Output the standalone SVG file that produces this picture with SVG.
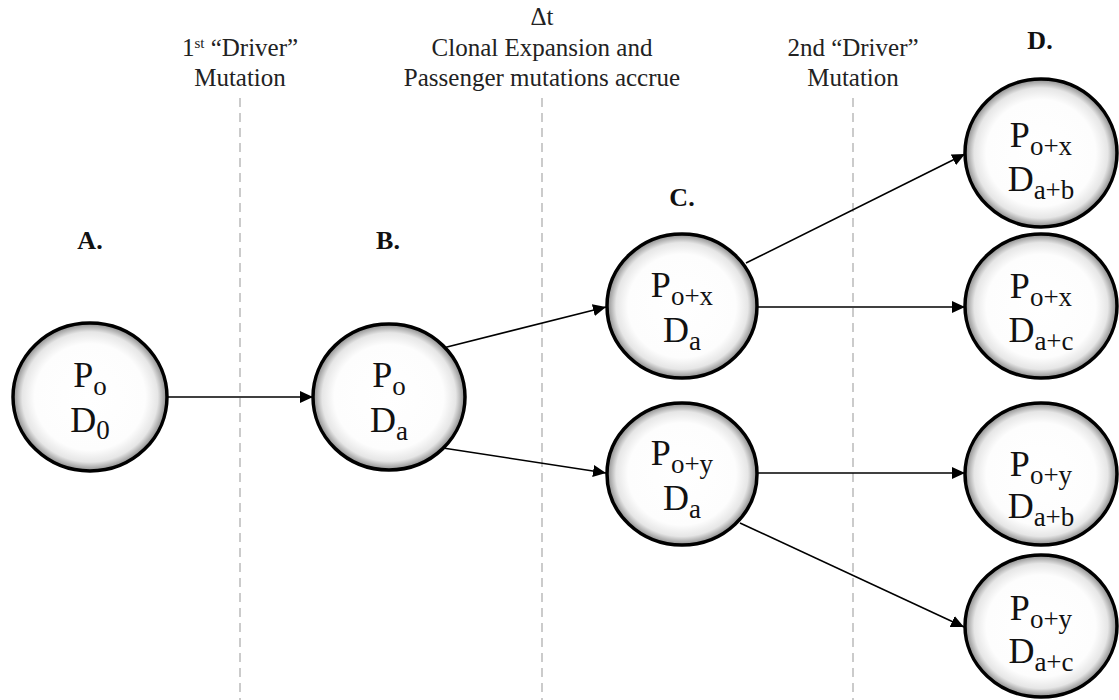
<svg xmlns="http://www.w3.org/2000/svg" width="1119" height="700" viewBox="0 0 1119 700">
<style>
.hdr{font-size:25px;fill:#222;text-anchor:middle}
.lbl{font-size:26px;font-weight:bold;fill:#111;text-anchor:middle}
.nt{font-size:36px;fill:#111;text-anchor:middle}
.sub{font-size:27px}
.cell{fill:url(#g);stroke:#000;stroke-width:3.5}
.dash{stroke:#bbb;stroke-width:1.5;stroke-dasharray:9 6;fill:none}
.conn{stroke:#000;stroke-width:1.6;fill:none;marker-end:url(#ah)}
</style>
<defs>
<radialGradient id="g" cx="50%" cy="50%" r="50%">
<stop offset="0" stop-color="#fff"/>
<stop offset="0.72" stop-color="#fdfdfd"/>
<stop offset="0.88" stop-color="#e6e6e6"/>
<stop offset="1" stop-color="#8a8a8a"/>
</radialGradient>
<marker id="ah" markerUnits="userSpaceOnUse" markerWidth="14" markerHeight="12" refX="13" refY="6" orient="auto">
<path d="M0,0 L13,6 L0,12 Z" fill="#000"/>
</marker>
</defs>
<rect width="1119" height="700" fill="#fff"/>
<g id="guides">
<line class="dash" x1="240" y1="98" x2="240" y2="700"/>
<line class="dash" x1="542" y1="98" x2="542" y2="700"/>
<line class="dash" x1="853" y1="98" x2="853" y2="700"/>
</g>
<g id="headers">
<text class="hdr" font-family="Liberation Serif, serif" x="240" y="56">1<tspan font-size="15" dy="-8">st</tspan><tspan dy="8"> “Driver”</tspan></text>
<text class="hdr" font-family="Liberation Serif, serif" x="240" y="86">Mutation</text>
<text class="hdr" font-family="Liberation Serif, serif" x="542" y="25">Δt</text>
<text class="hdr" font-family="Liberation Serif, serif" x="542" y="56">Clonal Expansion and</text>
<text class="hdr" font-family="Liberation Serif, serif" x="542" y="86">Passenger mutations accrue</text>
<text class="hdr" font-family="Liberation Serif, serif" x="853" y="56">2nd “Driver”</text>
<text class="hdr" font-family="Liberation Serif, serif" x="853" y="86">Mutation</text>
<text class="lbl" font-family="Liberation Serif, serif" x="90" y="249">A.</text>
<text class="lbl" font-family="Liberation Serif, serif" x="388" y="249">B.</text>
<text class="lbl" font-family="Liberation Serif, serif" x="682" y="206">C.</text>
<text class="lbl" font-family="Liberation Serif, serif" x="1040" y="49">D.</text>
</g>
<g id="connectors">
<line class="conn" x1="168" y1="397" x2="313" y2="397"/>
<line class="conn" x1="443" y1="348" x2="606" y2="307"/>
<line class="conn" x1="443" y1="448" x2="606" y2="473"/>
<line class="conn" x1="746" y1="263" x2="965" y2="154"/>
<line class="conn" x1="757" y1="307" x2="965" y2="307"/>
<line class="conn" x1="757" y1="473" x2="965" y2="473"/>
<line class="conn" x1="740" y1="523" x2="964" y2="627"/>
</g>
<g id="nodeA">
<ellipse class="cell" cx="90" cy="397" rx="77" ry="74"/>
<text class="nt" font-family="Liberation Serif, serif" x="90" y="387">P<tspan class="sub" dy="8">o</tspan></text>
<text class="nt" font-family="Liberation Serif, serif" x="90" y="432">D<tspan class="sub" dy="7">0</tspan></text>
</g>
<g id="nodeB">
<ellipse class="cell" cx="389" cy="397" rx="76" ry="73"/>
<text class="nt" font-family="Liberation Serif, serif" x="389" y="387">P<tspan class="sub" dy="8">o</tspan></text>
<text class="nt" font-family="Liberation Serif, serif" x="389" y="432">D<tspan class="sub" dy="8">a</tspan></text>
</g>
<g id="nodeC1">
<ellipse class="cell" cx="682" cy="306" rx="75" ry="72"/>
<text class="nt" font-family="Liberation Serif, serif" x="682" y="297">P<tspan class="sub" dy="8">o+x</tspan></text>
<text class="nt" font-family="Liberation Serif, serif" x="682" y="342">D<tspan class="sub" dy="8">a</tspan></text>
</g>
<g id="nodeC2">
<ellipse class="cell" cx="682" cy="474" rx="75" ry="71"/>
<text class="nt" font-family="Liberation Serif, serif" x="682" y="465">P<tspan class="sub" dy="8">o+y</tspan></text>
<text class="nt" font-family="Liberation Serif, serif" x="682" y="510">D<tspan class="sub" dy="8">a</tspan></text>
</g>
<g id="nodeD1">
<ellipse class="cell" cx="1041" cy="153" rx="76" ry="74"/>
<text class="nt" font-family="Liberation Serif, serif" x="1041" y="147">P<tspan class="sub" dy="8">o+x</tspan></text>
<text class="nt" font-family="Liberation Serif, serif" x="1041" y="191">D<tspan class="sub" dy="8">a+b</tspan></text>
</g>
<g id="nodeD2">
<ellipse class="cell" cx="1041" cy="306" rx="76" ry="72"/>
<text class="nt" font-family="Liberation Serif, serif" x="1041" y="298">P<tspan class="sub" dy="8">o+x</tspan></text>
<text class="nt" font-family="Liberation Serif, serif" x="1041" y="342">D<tspan class="sub" dy="8">a+c</tspan></text>
</g>
<g id="nodeD3">
<ellipse class="cell" cx="1041" cy="474" rx="76" ry="71"/>
<text class="nt" font-family="Liberation Serif, serif" x="1041" y="476">P<tspan class="sub" dy="8">o+y</tspan></text>
<text class="nt" font-family="Liberation Serif, serif" x="1041" y="518">D<tspan class="sub" dy="8">a+b</tspan></text>
</g>
<g id="nodeD4">
<ellipse class="cell" cx="1041" cy="626" rx="76" ry="71"/>
<text class="nt" font-family="Liberation Serif, serif" x="1041" y="620">P<tspan class="sub" dy="8">o+y</tspan></text>
<text class="nt" font-family="Liberation Serif, serif" x="1041" y="663">D<tspan class="sub" dy="8">a+c</tspan></text>
</g>
</svg>
